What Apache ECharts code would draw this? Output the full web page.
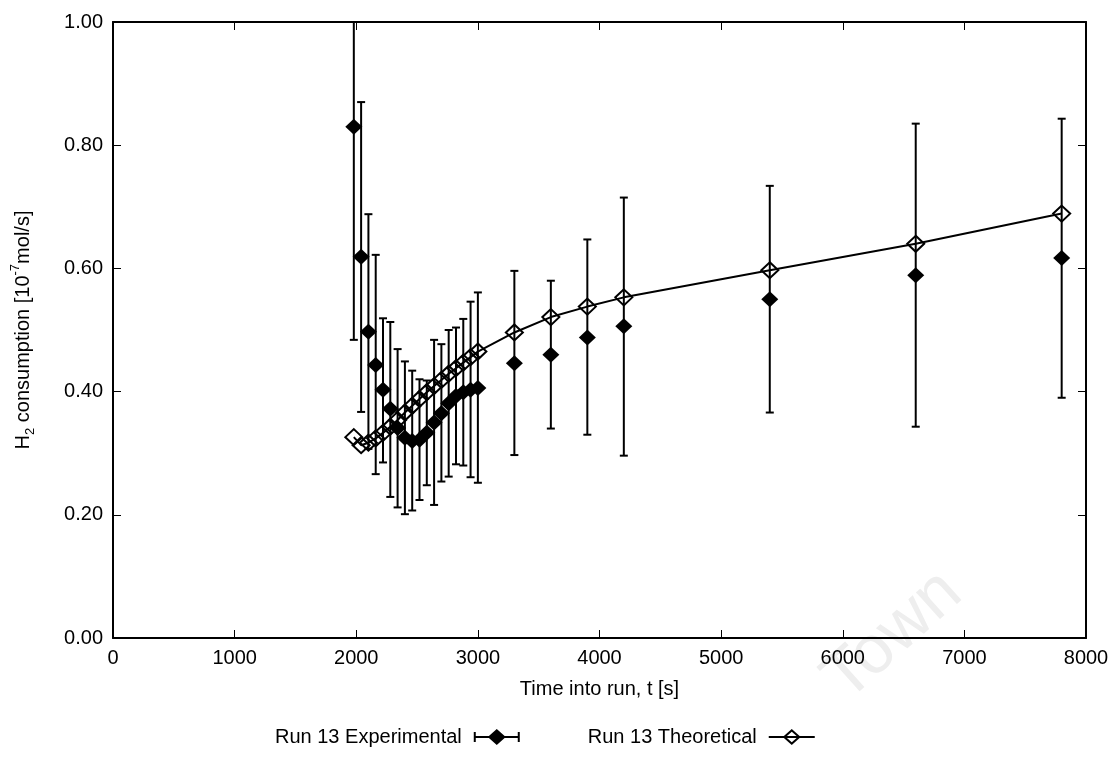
<!DOCTYPE html>
<html>
<head>
	<meta charset="UTF-8">
	<title>H2 consumption - Run 13</title>
	<script src="https://cdn.jsdelivr.net/npm/echarts@6/dist/echarts.min.js"></script>
	<style>
		html, body { margin: 0; padding: 0; background: #fff; }
		#main { width: 1113px; height: 773px; }
	</style>
</head>
<body>
<div id="main"></div>
<script>
	// time stamps [s]
	var timeRun = [1980, 2040, 2100, 2160, 2220, 2280, 2340, 2400, 2460, 2520, 2580, 2640, 2700, 2760, 2820, 2880, 2940, 3000,
		3300, 3600, 3900, 4200, 5400, 6600, 7800];
	// Run 13 experimental, mean and error bar ends [10^-7 mol/s]
	var expMean = [0.830, 0.619, 0.497, 0.443, 0.403, 0.372, 0.341, 0.325, 0.320, 0.322, 0.333, 0.350, 0.365, 0.381, 0.393, 0.399, 0.403, 0.406,
		0.446, 0.460, 0.488, 0.506, 0.550, 0.589, 0.617];
	var expLow = [0.484, 0.367, 0.307, 0.266, 0.285, 0.229, 0.212, 0.201, 0.207, 0.224, 0.248, 0.216, 0.254, 0.262, 0.282, 0.280, 0.261, 0.252,
		0.297, 0.340, 0.330, 0.296, 0.366, 0.343, 0.390];
	var expHigh = [1.000, 0.870, 0.688, 0.622, 0.519, 0.513, 0.469, 0.449, 0.434, 0.420, 0.418, 0.484, 0.477, 0.500, 0.504, 0.518, 0.546, 0.561,
		0.596, 0.580, 0.647, 0.715, 0.734, 0.835, 0.843];
	// Run 13 theoretical
	var theoMean = [0.326, 0.313, 0.317, 0.324, 0.333, 0.343, 0.354, 0.366, 0.377, 0.388, 0.399, 0.409, 0.419, 0.429, 0.438, 0.447, 0.456, 0.465,
		0.496, 0.521, 0.538, 0.553, 0.597, 0.640, 0.689];

	var xTicks = [0, 1000, 2000, 3000, 4000, 5000, 6000, 7000, 8000];
	var yTicks = [0.00, 0.20, 0.40, 0.60, 0.80, 1.00];

	var FONT = 'Liberation Sans';

	var expPoints = [], barData = [], theoPoints = [];
	for (var i = 0; i < timeRun.length; i++) {
		expPoints.push([timeRun[i], expMean[i]]);
		barData.push([timeRun[i], expLow[i], expHigh[i]]);
		theoPoints.push([timeRun[i], theoMean[i]]);
	}

	// legend icons (drawn in a 46x16 box)
	var iconExp = 'path://M0,3 L2,3 L2,7 L44,7 L44,3 L46,3 L46,13 L44,13 L44,9 L2,9 L2,13 L0,13 Z M14,8 L23,0 L32,8 L23,16 Z';
	var iconTheo = 'path://M0,7 L46,7 L46,9 L0,9 Z M14,8 L23,0 L32,8 L23,16 Z M17,8 L23,13.3 L29,8 L23,2.7 Z';

	var myChart = echarts.init(document.getElementById('main'));

	function tick() {
		return { show: true, inside: true, length: 8, lineStyle: { color: '#000', width: 1 } };
	}
	function axLine() {
		return { show: true, onZero: false, lineStyle: { color: '#000', width: 2 } };
	}

	var option = {
		backgroundColor: '#fff',
		animation: false,
		textStyle: { fontFamily: FONT },
		grid: { left: 113, right: 27, top: 22, bottom: 135 },
		graphic: [{
			type: 'text',
			z: -10,
			x: 893,
			y: 636,
			rotation: Math.PI / 4.3,
			style: {
				text: 'Town',
				font: '68px "Liberation Sans"',
				fill: '#eeeeee',
				align: 'center',
				verticalAlign: 'middle'
			}
		}],
		legend: {
			left: 270,
			top: 722,
			align: 'right',
			itemWidth: 46,
			itemHeight: 16,
			itemGap: 68,
			selectedMode: false,
			textStyle: { fontFamily: FONT, fontSize: 20, color: '#000', padding: [0, 7, 0, 0] },
			data: [
				{ name: 'Run 13 Experimental', icon: iconExp, itemStyle: { color: '#000', borderWidth: 0 } },
				{ name: 'Run 13 Theoretical', icon: iconTheo, itemStyle: { color: '#000', borderWidth: 0 } }
			]
		},
		xAxis: [{
			type: 'value',
			min: xTicks[0],
			max: xTicks[xTicks.length - 1],
			interval: 1000,
			name: 'Time into run, t [s]',
			nameLocation: 'middle',
			nameGap: 41,
			nameTextStyle: { fontFamily: FONT, fontSize: 20, color: '#000' },
			axisLine: axLine(),
			axisTick: tick(),
			splitLine: { show: false },
			axisLabel: {
				fontFamily: FONT, fontSize: 20, color: '#000', margin: 10,
				formatter: function (v) { return String(v); }
			}
		}, {
			type: 'value',
			position: 'top',
			min: xTicks[0],
			max: xTicks[xTicks.length - 1],
			interval: 1000,
			axisLine: axLine(),
			axisTick: tick(),
			splitLine: { show: false },
			axisLabel: { show: false }
		}],
		yAxis: [{
			type: 'value',
			min: yTicks[0],
			max: yTicks[yTicks.length - 1],
			interval: 0.2,
			name: '{a|H}{sub|2}{a| consumption [10}{sup|-7}{a|mol/s]}',
			nameLocation: 'middle',
			nameRotate: 90,
			nameGap: 76,
			nameTextStyle: {
				fontFamily: FONT,
				color: '#000',
				rich: {
					a: { fontFamily: FONT, fontSize: 20, color: '#000', lineHeight: 28 },
					sub: { fontFamily: FONT, fontSize: 13, color: '#000', verticalAlign: 'bottom' },
					sup: { fontFamily: FONT, fontSize: 13, color: '#000', verticalAlign: 'top' }
				}
			},
			axisLine: axLine(),
			axisTick: tick(),
			splitLine: { show: false },
			axisLabel: {
				fontFamily: FONT, fontSize: 20, color: '#000', margin: 10,
				formatter: function (v) { return v.toFixed(2); }
			}
		}, {
			type: 'value',
			position: 'right',
			min: yTicks[0],
			max: yTicks[yTicks.length - 1],
			interval: 0.2,
			axisLine: axLine(),
			axisTick: tick(),
			splitLine: { show: false },
			axisLabel: { show: false }
		}],
		series: [{
			// error bars of the experimental run
			name: 'Run 13 Experimental',
			type: 'custom',
			clip: true,
			data: barData,
			renderItem: function (params, api) {
				var lo = api.coord([api.value(0), api.value(1)]);
				var hi = api.coord([api.value(0), api.value(2)]);
				var w = 4;
				var st = { stroke: '#000', lineWidth: 2 };
				return {
					type: 'group',
					children: [
						{ type: 'line', shape: { x1: lo[0], y1: lo[1], x2: hi[0], y2: hi[1] }, style: st },
						{ type: 'line', shape: { x1: lo[0] - w, y1: lo[1], x2: lo[0] + w, y2: lo[1] }, style: st },
						{ type: 'line', shape: { x1: hi[0] - w, y1: hi[1], x2: hi[0] + w, y2: hi[1] }, style: st }
					]
				};
			}
		}, {
			name: 'Run 13 Experimental',
			type: 'scatter',
			symbol: 'diamond',
			symbolSize: [17, 16],
			itemStyle: { color: '#000', opacity: 1 },
			data: expPoints
		}, {
			name: 'Run 13 Theoretical',
			type: 'line',
			symbol: 'diamond',
			symbolSize: [17, 16],
			showAllSymbol: true,
			lineStyle: { color: '#000', width: 2 },
			itemStyle: { color: 'rgba(0,0,0,0)', borderColor: '#000', borderWidth: 2 },
			data: theoPoints
		}]
	};

	myChart.setOption(option);
</script>
</body>
</html>
